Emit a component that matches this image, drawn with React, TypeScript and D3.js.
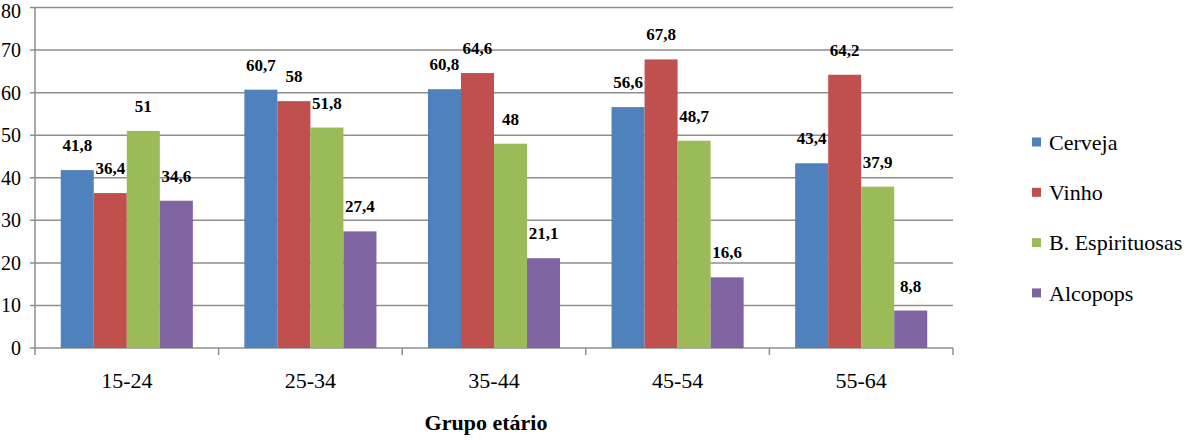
import React from "react";
import * as d3 from "d3";

const categories = ["15-24", "25-34", "35-44", "45-54", "55-64"];
const seriesNames = ["Cerveja", "Vinho", "B. Espirituosas", "Alcopops"];
const cerveja = [41.8, 60.7, 60.8, 56.6, 43.4];
const vinho = [36.4, 58, 64.6, 67.8, 64.2];
const espirituosas = [51, 51.8, 48, 48.7, 37.9];
const alcopops = [34.6, 27.4, 21.1, 16.6, 8.8];
const yTicks = [0, 10, 20, 30, 40, 50, 60, 70, 80];
const colors = ["#4F81BD", "#C0504D", "#9BBB59", "#8064A2"];

const seriesValues = [cerveja, vinho, espirituosas, alcopops];

const W = 1199;
const H = 440;
const left = 35;
const right = 953;
const top = 7.5;
const bottom = 348;

const fmt = (v: number) => String(v).replace(".", ",");
const FF = "Liberation Serif";

export default function App() {
  const x0 = d3.scaleBand<string>().domain(categories).range([left, right]).padding(0);
  const x1 = d3
    .scaleBand<string>()
    .domain(seriesNames)
    .range([0, x0.bandwidth()])
    .paddingInner(0)
    .paddingOuter(0.78);
  const y = d3.scaleLinear().domain([0, 80]).range([bottom, top]);
  const gridColor = "#8e8e8e";
  const ts = { fontFamily: FF };

  return (
    <div style={{ position: "absolute", left: 0, top: 0, width: W, height: H, fontFamily: FF }}>
      <svg width={W} height={H} style={{ display: "block" }}>
        <rect x={0} y={0} width={W} height={H} fill="#fff" />
        {yTicks.map((t) => (
          <line
            key={"g" + t}
            x1={left - 5}
            x2={right}
            y1={y(t)}
            y2={y(t)}
            stroke={gridColor}
            strokeWidth={1.5}
          />
        ))}
        <line x1={left} x2={left} y1={top} y2={bottom + 7} stroke={gridColor} strokeWidth={1.5} />
        {yTicks.map((t) => (
          <text
            key={"yl" + t}
            x={21}
            y={Math.max(y(t), 11)}
            dy="0.35em"
            textAnchor="end"
            fontSize={20}
            fill="#000"
            style={ts}
          >
            {t}
          </text>
        ))}
        {categories.map((c) => (
          <line
            key={"xt" + c}
            x1={(x0(c) as number) + x0.bandwidth()}
            x2={(x0(c) as number) + x0.bandwidth()}
            y1={bottom}
            y2={bottom + 7}
            stroke={gridColor}
            strokeWidth={1.5}
          />
        ))}
        {categories.map((c, ci) =>
          seriesNames.map((s, si) => {
            const v = seriesValues[si][ci];
            const bx = (x0(c) as number) + (x1(s) as number);
            return (
              <rect
                key={c + s}
                x={bx}
                y={y(v)}
                width={x1.bandwidth()}
                height={bottom - y(v)}
                fill={colors[si]}
              />
            );
          })
        )}
        {categories.map((c, ci) =>
          seriesNames.map((s, si) => {
            const v = seriesValues[si][ci];
            const cx = (x0(c) as number) + (x1(s) as number) + x1.bandwidth() / 2;
            return (
              <text
                key={"dl" + c + s}
                x={cx}
                y={y(v) - 19}
                textAnchor="middle"
                fontSize={17}
                fontWeight="bold"
                fill="#000"
                style={ts}
              >
                {fmt(v)}
              </text>
            );
          })
        )}
        {categories.map((c) => (
          <text
            key={"cl" + c}
            x={(x0(c) as number) + x0.bandwidth() / 2}
            y={380}
            dy="0.35em"
            textAnchor="middle"
            fontSize={22}
            fill="#000"
            style={ts}
          >
            {c}
          </text>
        ))}
        <text
          x={486}
          y={422}
          dy="0.35em"
          textAnchor="middle"
          fontSize={22}
          fontWeight="bold"
          fill="#000"
          style={ts}
        >
          Grupo etário
        </text>
        {seriesNames.map((s, i) => {
          const cy = 142 + i * 50.3;
          return (
            <g key={"lg" + s}>
              <rect x={1032} y={cy - 4.5} width={9} height={9} fill={colors[i]} />
              <text x={1049} y={cy} dy="0.35em" fontSize={22} fill="#000" style={ts}>
                {s}
              </text>
            </g>
          );
        })}
      </svg>
    </div>
  );
}
